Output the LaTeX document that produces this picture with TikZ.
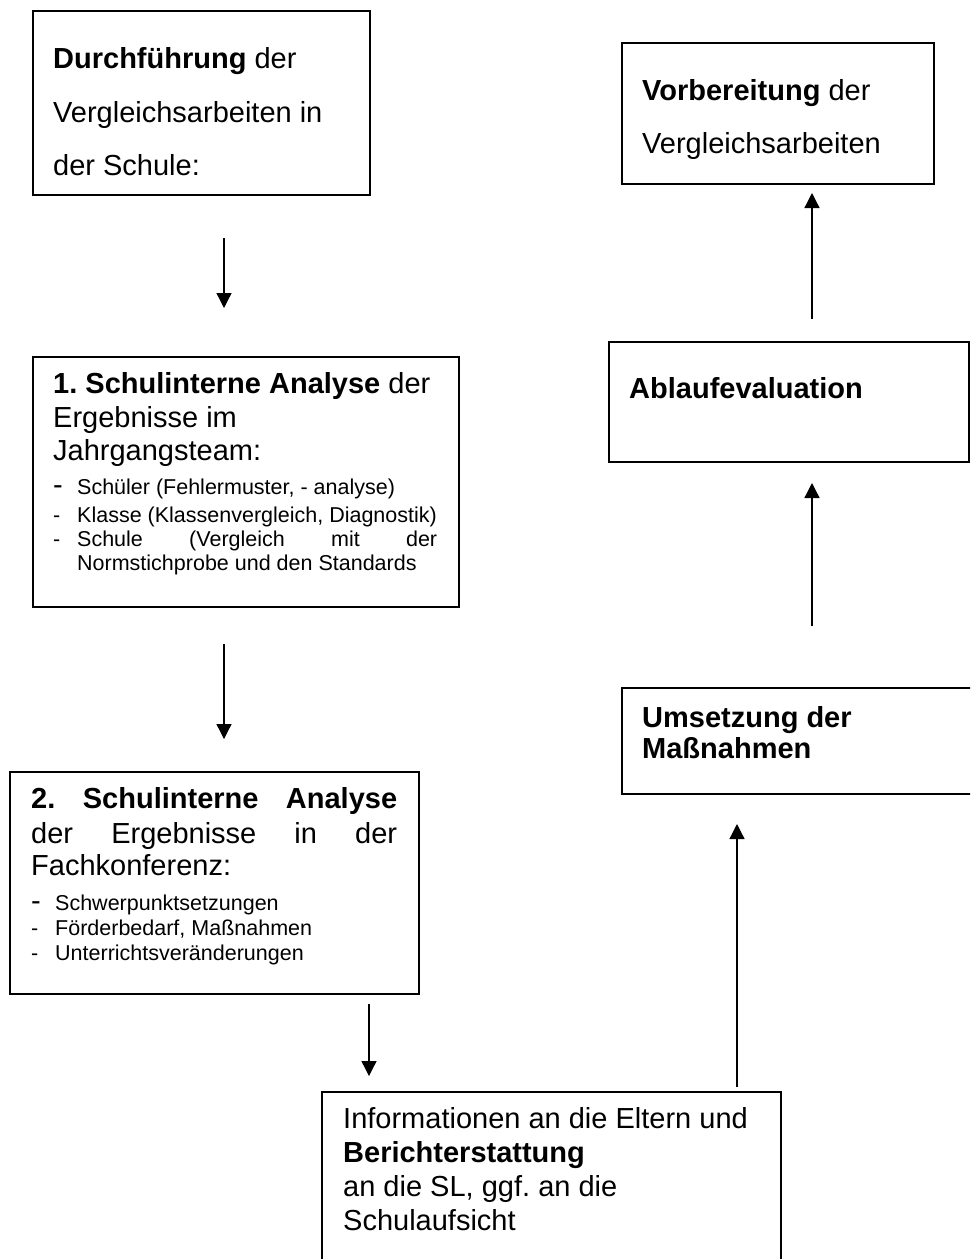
\documentclass[tikz,border=0pt]{standalone}
\usepackage{fontspec}
\setmainfont{Liberation Sans}
\usetikzlibrary{arrows.meta}
\frenchspacing
\begin{document}
\begin{tikzpicture}[x=1pt,y=-1pt,
  boxstyle/.style={draw, line width=1.6pt, inner sep=0pt, anchor=north west},
  big/.style={anchor=base west, inner sep=0pt, font=\fontsize{29}{33}\selectfont},
  small/.style={anchor=base west, inner sep=0pt, font=\fontsize{21.5}{25}\selectfont},
  conn/.style={line width=1.3pt, -{Triangle[width=15pt,length=15pt]}}]
\useasboundingbox (0,0) rectangle (970,1259);
\begin{scope}
\clip (0,0) rectangle (970,1259);
% boxes
\node (b1) [boxstyle, minimum width=337pt, minimum height=184pt] at (32,10) {};
\node (b2) [boxstyle, minimum width=426pt, minimum height=250pt] at (32,356) {};
\node (b3) [boxstyle, minimum width=409pt, minimum height=222pt] at (9,771) {};
\node (b4) [boxstyle, minimum width=312pt, minimum height=141pt] at (621,42) {};
\node (b5) [boxstyle, minimum width=360pt, minimum height=120pt] at (608,341) {};
\node (b6) [boxstyle, minimum width=400pt, minimum height=106pt] at (621,687) {};
\node (b7) [boxstyle, minimum width=459pt, minimum height=220pt] at (321,1091) {};
% box 1
\node (t11) [big] at (53,68) {\textbf{Durchführung} der};
\node (t12) [big] at (53,122) {Vergleichsarbeiten in};
\node (t13) [big] at (53,175) {der Schule:};
% box 2
\node (t21) [big] at (53,393) {\textbf{1. Schulinterne Analyse} der};
\node (t22) [big] at (53,427) {Ergebnisse im};
\node (t23) [big] at (53,460) {Jahrgangsteam:};
\node (d21) [big] at (53,494) {-};
\node (t24) [small] at (77,494) {Schüler (Fehlermuster, - analyse)};
\node (d22) [small] at (53,522) {-};
\node (t25) [small] at (77,522) {Klasse (Klassenvergleich, Diagnostik)};
\node (d23) [small] at (53,546) {-};
\node (t26) [small] at (77,546) {\makebox[360pt][s]{Schule (Vergleich mit der}};
\node (t27) [small] at (77,570) {Normstichprobe und den Standards};
% box 3
\node (t31) [big] at (31,808) {\makebox[366pt][s]{\textbf{2. Schulinterne Analyse}}};
\node (t32) [big] at (31,843) {\makebox[366pt][s]{der Ergebnisse in der}};
\node (t33) [big] at (31,875) {Fachkonferenz:};
\node (d31) [big] at (31,910) {-};
\node (t34) [small] at (55,910) {Schwerpunktsetzungen};
\node (d32) [small] at (31,935) {-};
\node (t35) [small] at (55,935) {Förderbedarf, Maßnahmen};
\node (d33) [small] at (31,960) {-};
\node (t36) [small] at (55,960) {Unterrichtsveränderungen};
% box 4
\node (t41) [big] at (642,100) {\textbf{Vorbereitung} der};
\node (t42) [big] at (642,153) {Vergleichsarbeiten};
% box 5
\node (t51) [big] at (629,398) {\textbf{Ablaufevaluation}};
% box 6
\node (t61) [big] at (642,727) {\textbf{Umsetzung der}};
\node (t62) [big] at (642,758) {\textbf{Maßnahmen}};
% box 7
\node (t71) [big] at (343,1128) {Informationen an die Eltern und};
\node (t72) [big] at (343,1162) {\textbf{Berichterstattung}};
\node (t73) [big] at (343,1196) {an die SL, ggf. an die};
\node (t74) [big] at (343,1230) {Schulaufsicht};
% connector end points
\coordinate (a1s) at (224,238); \coordinate (a1e) at (224,308);
\coordinate (a2s) at (224,644); \coordinate (a2e) at (224,739);
\coordinate (a3s) at (369,1004); \coordinate (a3e) at (369,1076);
\coordinate (a4s) at (737,1087); \coordinate (a4e) at (737,824);
\coordinate (a5s) at (812,626); \coordinate (a5e) at (812,483);
\coordinate (a6s) at (812,319); \coordinate (a6e) at (812,193);
\draw[conn] (a1s) -- (a1e);
\draw[conn] (a2s) -- (a2e);
\draw[conn] (a3s) -- (a3e);
\draw[conn] (a4s) -- (a4e);
\draw[conn] (a5s) -- (a5e);
\draw[conn] (a6s) -- (a6e);
\end{scope}
\end{tikzpicture}
\end{document}
